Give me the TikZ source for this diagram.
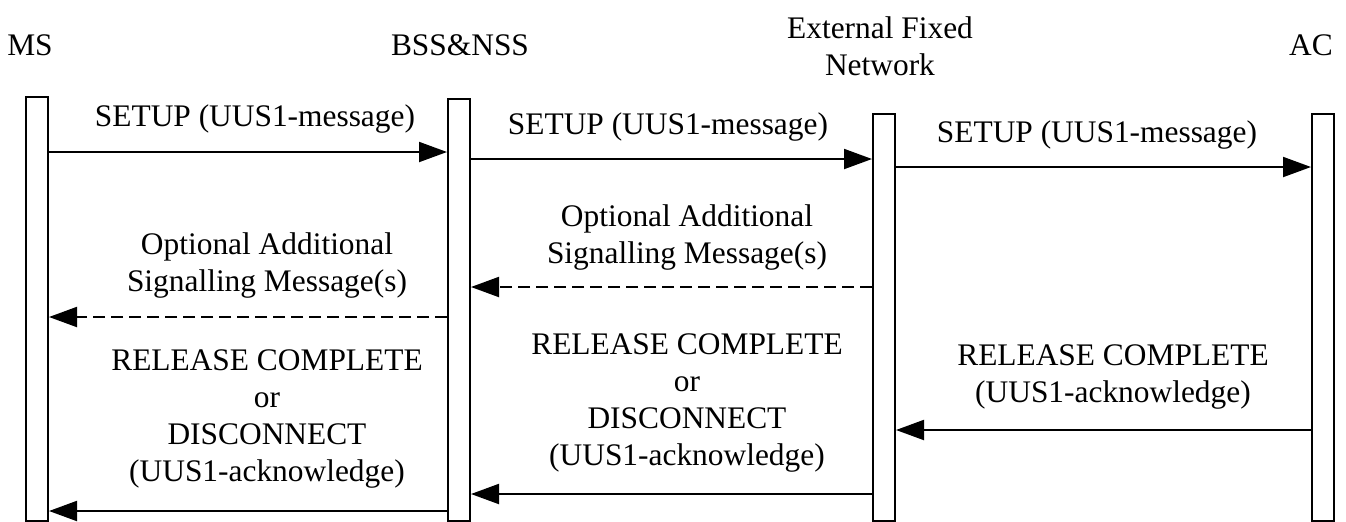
\documentclass[tikz,border=0pt]{standalone}
\usepackage{fontspec}
\setmainfont{Liberation Serif}
\usetikzlibrary{arrows.meta}
\tikzset{
  lifebar/.style={draw, line width=1pt, minimum width=11pt, inner sep=0pt, anchor=north},
  msg/.style={line width=1pt, -{Triangle[length=14pt,width=10pt]}},
  optmsg/.style={msg, dash pattern=on 6pt off 3pt},
  lbl/.style={inner sep=0pt, align=center, font=\fontsize{15.7}{18.5}\selectfont},
}
\begin{document}
\begin{tikzpicture}[x=0.5pt,y=0.5pt,yscale=-1,xscale=1]
\useasboundingbox (0,0) rectangle (1346,521);

% Text Node
\node [lbl, anchor=base] (msname) at (30,55) {MS};
% Text Node
\node [lbl, anchor=base] (bssname) at (460,55) {BSS\&NSS};
% Text Node
\node [lbl, anchor=south] (efnname) at (880,76) {External Fixed\\Network};
% Text Node
\node [lbl, anchor=base] (acname) at (1311,55) {AC};

%Shape: Rectangle
\node [lifebar, minimum height=212pt] (ms) at (37,96) {};
%Shape: Rectangle
\node [lifebar, minimum height=211pt] (bss) at (459,98) {};
%Shape: Rectangle
\node [lifebar, minimum height=203.5pt] (efn) at (884,113) {};
%Shape: Rectangle
\node [lifebar, minimum height=203.5pt] (ac) at (1323,113) {};

%Straight Lines
\draw [msg] (ms.east |- 0,152) -- (bss.west |- 0,152);
%Straight Lines
\draw [msg] (bss.east |- 0,159) -- (efn.west |- 0,159);
%Straight Lines
\draw [msg] (efn.east |- 0,167) -- (ac.west |- 0,167);
%Straight Lines
\draw [optmsg] (efn.west |- 0,287) -- (bss.east |- 0,287);
%Straight Lines
\draw [optmsg] (bss.west |- 0,317) -- (ms.east |- 0,317);
%Straight Lines
\draw [msg] (ac.west |- 0,430) -- (efn.east |- 0,430);
%Straight Lines
\draw [msg] (efn.west |- 0,494) -- (bss.east |- 0,494);
%Straight Lines
\draw [msg] (bss.west |- 0,511) -- (ms.east |- 0,511);

% Text Node
\node [lbl, anchor=south] (setupa) at (255,134) {SETUP (UUS1-message)};
% Text Node
\node [lbl, anchor=south] (setupb) at (668,142) {SETUP (UUS1-message)};
% Text Node
\node [lbl, anchor=south] (setupc) at (1097,150) {SETUP (UUS1-message)};
% Text Node
\node [lbl, anchor=south] (opta) at (687,271) {Optional Additional\\Signalling Message(s)};
% Text Node
\node [lbl, anchor=south] (optb) at (267,299) {Optional Additional\\Signalling Message(s)};
% Text Node
\node [lbl, anchor=south] (rela) at (1113,410) {RELEASE COMPLETE\\(UUS1-acknowledge)};
% Text Node
\node [lbl, anchor=south] (relb) at (687,473) {RELEASE COMPLETE\\or\\DISCONNECT\\(UUS1-acknowledge)};
% Text Node
\node [lbl, anchor=south] (relc) at (267,489) {RELEASE COMPLETE\\or\\DISCONNECT\\(UUS1-acknowledge)};

\end{tikzpicture}
\end{document}
